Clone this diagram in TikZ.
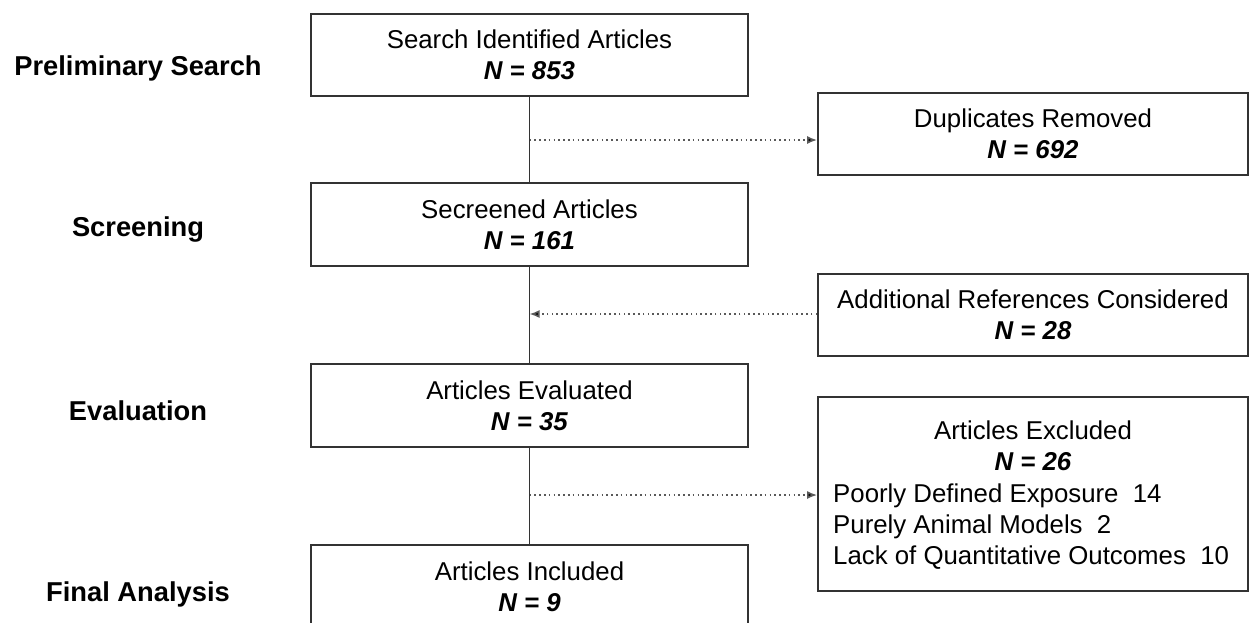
\documentclass[tikz,border=0pt]{standalone}
\usepackage{fontspec}
\setmainfont{Liberation Sans}
\usetikzlibrary{arrows.meta}
\begin{document}
\begin{tikzpicture}[x=1pt,y=-1pt,
  box/.style={draw=black!80,line width=1.8pt,fill=white,inner sep=0pt,align=center,
    font=\fontsize{25.8}{31}\selectfont},
  stage/.style={font=\fontsize{27.3}{31}\selectfont\bfseries},
  flow/.style={draw=black!80,line width=1.8pt},
  dotarrow/.style={draw=black!65,line width=1.6pt,dash pattern=on 1.6pt off 3.2pt,
    -{Latex[length=10pt,width=8pt,fill=black]}},
  listtxt/.style={anchor=west,inner sep=0pt,font=\fontsize{25.8}{31}\selectfont}]
\useasboundingbox (0,0) rectangle (1249,622);
\clip (0,0) rectangle (1249,622);
% stage labels
\node[stage] (s1) at (138,68) {Preliminary Search};
\node[stage] (s2) at (138,229) {Screening};
\node[stage] (s3) at (138,411) {Evaluation};
\node[stage] (s4) at (138,594) {Final Analysis};
% main boxes
\node[box,minimum width=437pt,minimum height=82pt] (b1) at (529.5,55)
  {Search Identified Articles\\ \textbf{\textit{N = 853}}};
\node[box,minimum width=437pt,minimum height=83pt] (b2) at (529.5,224.5)
  {Secreened Articles\\ \textbf{\textit{N = 161}}};
\node[box,minimum width=437pt,minimum height=83pt] (b3) at (529.5,405.5)
  {Articles Evaluated\\ \textbf{\textit{N = 35}}};
\node[box,minimum width=437pt,minimum height=83pt] (b4) at (529.5,586.5)
  {Articles Included\\ \textbf{\textit{N = 9}}};
% right boxes
\node[box,minimum width=430pt,minimum height=82pt] (dup) at (1033,134)
  {Duplicates Removed\\ \textbf{\textit{N = 692}}};
\node[box,minimum width=430pt,minimum height=82pt] (add) at (1033,315)
  {Additional References Considered\\ \textbf{\textit{N = 28}}};
\node[box,minimum width=430pt,minimum height=194pt] (exc) at (1033,494) {};
\node[box,draw=none,fill=none] (exch) at (1033,445.5)
  {Articles Excluded\\ \textbf{\textit{N = 26}}};
\node[listtxt] (e1) at (833,496) {Poorly Defined Exposure\ \ 14};
\node[listtxt] (e2) at (833,527) {Purely Animal Models\ \ 2};
\node[listtxt] (e3) at (833,558) {Lack of Quantitative Outcomes\ \ 10};
% vertical flow
\draw[flow] (b1.south) -- (b2.north);
\draw[flow] (b2.south) -- (b3.north);
\draw[flow] (b3.south) -- (b4.north);
% side arrows
\coordinate (j1) at (529.5,140);
\coordinate (j2) at (529.5,314);
\coordinate (j3) at (529.5,495);
\draw[dotarrow] (j1) -- (j1 -| dup.west);
\draw[dotarrow] (j2 -| add.west) -- (j2);
\draw[dotarrow] (j3) -- (j3 -| exc.west);
\end{tikzpicture}
\end{document}
